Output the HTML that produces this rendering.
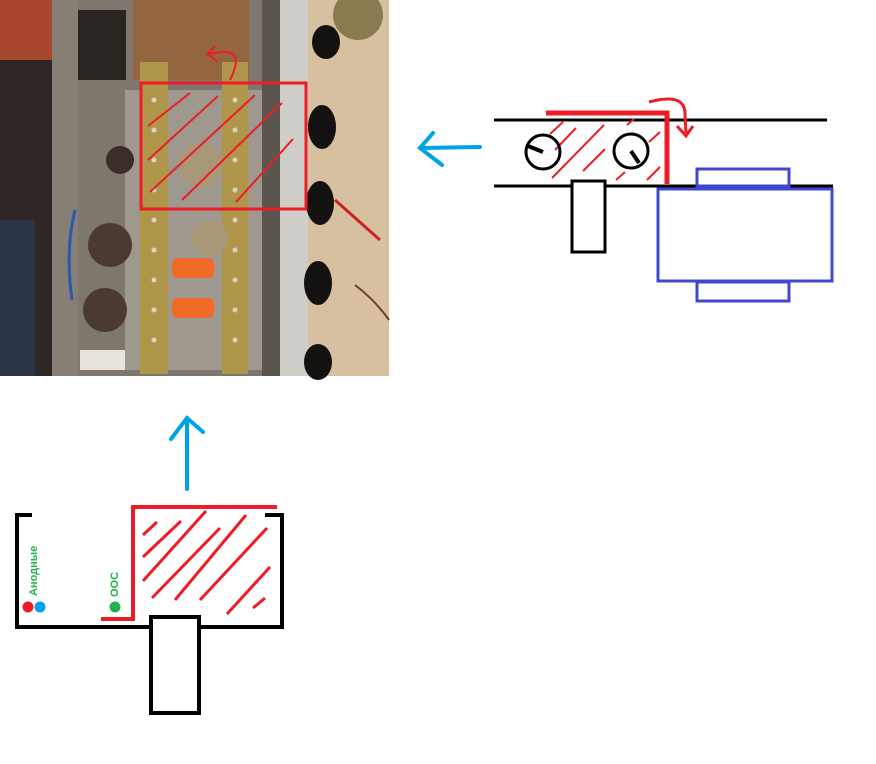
<!DOCTYPE html>
<html><head><meta charset="utf-8"><style>
html,body{margin:0;padding:0;background:#fff;width:876px;height:764px;overflow:hidden}
svg{display:block}
</style></head><body>
<svg width="876" height="764" viewBox="0 0 876 764" xmlns="http://www.w3.org/2000/svg">
<g>
<rect x="0" y="0" width="389" height="376" fill="#6a655d"/>
<rect x="0" y="0" width="60" height="110" fill="#a8472c"/>
<rect x="0" y="60" width="55" height="316" fill="#2e2624"/>
<rect x="0" y="220" width="35" height="156" fill="#2c3548"/>
<rect x="52" y="0" width="28" height="376" fill="#857f75"/>
<rect x="78" y="0" width="200" height="376" fill="#7d776d"/>
<rect x="78" y="10" width="48" height="70" fill="#2a2520"/>
<rect x="133" y="0" width="116" height="80" fill="#94663f"/>
<rect x="125" y="90" width="150" height="280" fill="#9e988e"/>
<rect x="140" y="62" width="28" height="312" fill="#b0964a"/>
<rect x="222" y="62" width="26" height="312" fill="#b0964a"/>
<g fill="#d8d4c8">
<circle cx="154" cy="100" r="2.5"/><circle cx="154" cy="130" r="2.5"/><circle cx="154" cy="160" r="2.5"/><circle cx="154" cy="190" r="2.5"/><circle cx="154" cy="220" r="2.5"/><circle cx="154" cy="250" r="2.5"/><circle cx="154" cy="280" r="2.5"/><circle cx="154" cy="310" r="2.5"/><circle cx="154" cy="340" r="2.5"/>
<circle cx="235" cy="100" r="2.5"/><circle cx="235" cy="130" r="2.5"/><circle cx="235" cy="160" r="2.5"/><circle cx="235" cy="190" r="2.5"/><circle cx="235" cy="220" r="2.5"/><circle cx="235" cy="250" r="2.5"/><circle cx="235" cy="280" r="2.5"/><circle cx="235" cy="310" r="2.5"/><circle cx="235" cy="340" r="2.5"/>
</g>
<rect x="262" y="0" width="18" height="376" fill="#5a554e"/>
<rect x="280" y="0" width="28" height="376" fill="#cfcdc8"/>
<rect x="308" y="0" width="81" height="376" fill="#d6c09f"/>
<ellipse cx="326" cy="42" rx="14" ry="17" fill="#141210"/>
<ellipse cx="322" cy="127" rx="14" ry="22" fill="#141210"/>
<ellipse cx="320" cy="203" rx="14" ry="22" fill="#141210"/>
<ellipse cx="318" cy="283" rx="14" ry="22" fill="#141210"/>
<ellipse cx="318" cy="362" rx="14" ry="18" fill="#141210"/>
<circle cx="358" cy="15" r="25" fill="#8a7a50"/>
<circle cx="120" cy="160" r="14" fill="#3a2e28"/>
<circle cx="110" cy="245" r="22" fill="#4a3a32"/>
<circle cx="105" cy="310" r="22" fill="#4a3a32"/>
<circle cx="200" cy="165" r="22" fill="#a89878"/>
<circle cx="210" cy="238" r="18" fill="#a89878"/>
<rect x="172" y="258" width="42" height="20" rx="6" fill="#f06a2a"/>
<rect x="172" y="298" width="42" height="20" rx="6" fill="#f06a2a"/>
<path d="M75 210 Q65 250 72 300" stroke="#2a5ab0" stroke-width="3" fill="none"/>
<rect x="80" y="350" width="45" height="20" fill="#e8e4dc"/>
<path d="M335 200 L380 240" stroke="#d02020" stroke-width="3"/>
<path d="M355 285 Q375 300 389 320" stroke="#6a4020" stroke-width="2" fill="none"/>
<rect x="141" y="83" width="165" height="126" fill="none" stroke="#ee1c24" stroke-width="3"/>
<g stroke="#ee1c24" stroke-width="2">
<line x1="148" y1="126" x2="190" y2="93"/>
<line x1="148" y1="160" x2="218" y2="96"/>
<line x1="150" y1="192" x2="255" y2="95"/>
<line x1="182" y1="200" x2="282" y2="103"/>
<line x1="236" y1="202" x2="293" y2="139"/>
</g>
<path d="M230 80 Q245 50 222 52 L207 54 M215 46 L207 54 L218 62" stroke="#ee1c24" stroke-width="2" fill="none"/>
</g>

<path d="M480 147 L420 148 M433 133 L420 148 L442 165" stroke="#00a2e8" stroke-width="4" fill="none" stroke-linecap="round"/>
<line x1="494" y1="120" x2="827" y2="120" stroke="#000" stroke-width="3"/>
<line x1="494" y1="186" x2="833" y2="186" stroke="#000" stroke-width="3"/>
<g stroke="#ee1c24" stroke-width="2">
<line x1="550" y1="134" x2="563" y2="122"/>
<line x1="555" y1="150" x2="576" y2="128"/>
<line x1="552" y1="178" x2="604" y2="125"/>
<line x1="583" y1="171" x2="605" y2="149"/>
<line x1="627" y1="125" x2="634" y2="119"/>
<line x1="649" y1="142" x2="660" y2="132"/>
<line x1="616" y1="180" x2="625" y2="172"/>
<line x1="647" y1="180" x2="660" y2="167"/>
</g>
<circle cx="543" cy="152" r="17" fill="none" stroke="#000" stroke-width="3"/>
<line x1="543" y1="152" x2="528" y2="146" stroke="#000" stroke-width="4"/>
<circle cx="631" cy="151" r="17" fill="none" stroke="#000" stroke-width="3"/>
<line x1="631" y1="151" x2="639" y2="163" stroke="#000" stroke-width="4"/>
<path d="M546 113 L667 113 L667 184" stroke="#ee1c24" stroke-width="5" fill="none"/>
<path d="M649 102 Q686 92 685 115 L686 133 M677 126 L686 136 L693 126" stroke="#ee1c24" stroke-width="3" fill="none"/>
<rect x="572" y="181" width="33" height="71" fill="#fff" stroke="#000" stroke-width="3"/>
<rect x="697" y="169" width="92" height="17" fill="none" stroke="#3f48cc" stroke-width="3"/>
<rect x="697" y="282" width="92" height="19" fill="none" stroke="#3f48cc" stroke-width="3"/>
<rect x="658" y="189" width="174" height="92" fill="#fff" stroke="#3f48cc" stroke-width="3"/>

<path d="M187 489 L187 418 M171 439 L187 418 L203 432" stroke="#00a2e8" stroke-width="4" fill="none" stroke-linecap="round"/>
<path d="M32 515 L17 515 L17 627 L282 627 L282 515 L265 515" stroke="#000" stroke-width="4" fill="none"/>
<path d="M101 619 L133 619 L133 507 L277 507" stroke="#ee1c24" stroke-width="4" fill="none"/>
<g stroke="#ee1c24" stroke-width="3">
<line x1="143" y1="535" x2="157" y2="522"/>
<line x1="143" y1="557" x2="181" y2="521"/>
<line x1="143" y1="581" x2="206" y2="511"/>
<line x1="152" y1="598" x2="220" y2="528"/>
<line x1="175" y1="600" x2="246" y2="515"/>
<line x1="200" y1="600" x2="267" y2="528"/>
<line x1="227" y1="614" x2="270" y2="567"/>
<line x1="253" y1="608" x2="265" y2="598"/>
</g>
<rect x="151" y="617" width="48" height="96" fill="#fff" stroke="#000" stroke-width="4"/>
<circle cx="28" cy="607" r="5.5" fill="#ed1c24"/>
<circle cx="40" cy="607" r="5.5" fill="#00a2e8"/>
<circle cx="115" cy="607" r="5.5" fill="#22b14c"/>
<text transform="translate(37,596) rotate(-90)" font-family="Liberation Sans, DejaVu Sans, sans-serif" font-size="11" font-weight="bold" fill="#22b14c">Анодные</text>
<text transform="translate(118,597) rotate(-90)" font-family="Liberation Sans, DejaVu Sans, sans-serif" font-size="11" font-weight="bold" fill="#22b14c">ООС</text>
</svg>
</body></html>
